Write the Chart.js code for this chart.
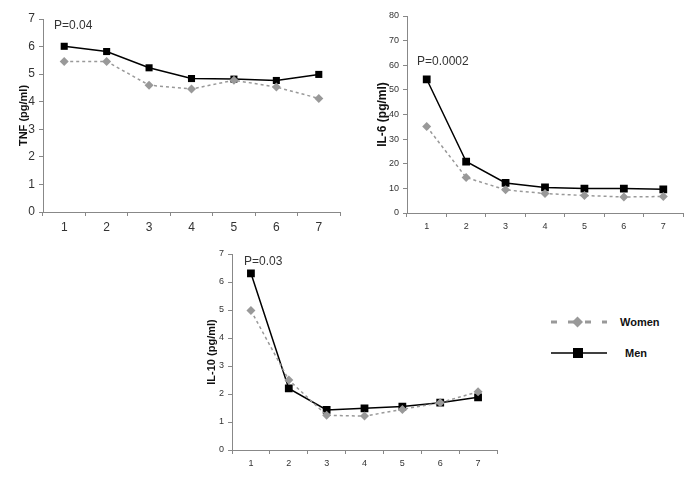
<!DOCTYPE html>
<html><head><meta charset="utf-8">
<script src="https://cdn.jsdelivr.net/npm/chart.js@4.4.1/dist/chart.umd.min.js"></script>
<style>
html,body{margin:0;padding:0;background:#fff;width:693px;height:480px;overflow:hidden;font-family:"Liberation Sans",Arial,sans-serif;}
.box{position:absolute;}
.p{position:absolute;font-size:12px;color:#333;line-height:12px;white-space:nowrap;}
.lg{position:absolute;font-size:11px;font-weight:bold;color:#111;line-height:12px;}
</style></head><body>
<div class="box" style="left:0;top:0;width:345px;height:235px;"><canvas id="c1"></canvas></div>
<div class="box" style="left:350px;top:0;width:343px;height:235px;"><canvas id="c2"></canvas></div>
<div class="box" style="left:180px;top:230px;width:325px;height:250px;"><canvas id="c3"></canvas></div>
<div class="p" style="left:54px;top:19px;">P=0.04</div>
<div class="p" style="left:417px;top:55px;">P=0.0002</div>
<div class="p" style="left:244px;top:255px;">P=0.03</div>
<svg class="box" style="left:545px;top:310px;" width="70" height="55">
  <line x1="6" y1="12" x2="62" y2="12" stroke="#999" stroke-width="3" stroke-dasharray="6,11"/>
  <polygon points="32.5,6.5 38,12 32.5,17.5 27,12" fill="#999"/>
  <line x1="6" y1="43" x2="62" y2="43" stroke="#000" stroke-width="1.5"/>
  <rect x="28" y="38" width="10" height="10" fill="#000"/>
</svg>
<div class="lg" style="left:620px;top:316px;">Women</div>
<div class="lg" style="left:625px;top:347px;">Men</div>
<script>
const categories = ['1','2','3','4','5','6','7'];
const tnfMen   = [6.01, 5.82, 5.23, 4.84, 4.82, 4.77, 4.99];
const tnfWomen = [5.46, 5.46, 4.60, 4.46, 4.78, 4.53, 4.12];
const il6Men   = [54.3, 20.9, 12.2, 10.4, 9.9, 9.9, 9.6];
const il6Women = [35.1, 14.4, 9.4, 7.9, 7.1, 6.5, 6.7];
const il10Men   = [6.31, 2.20, 1.43, 1.49, 1.55, 1.69, 1.88];
const il10Women = [4.98, 2.50, 1.24, 1.21, 1.45, 1.69, 2.08];
const seriesNames = ['Women', 'Men'];

function makeChart(id, women, men, yTitle, yMax, step, cfg) {
  new Chart(document.getElementById(id), {
    type: 'line',
    data: {
      labels: categories,
      datasets: [
        { label: seriesNames[0], data: women, borderColor: '#999', backgroundColor: '#999',
          borderWidth: 1.5, borderDash: [3, 3], pointStyle: 'rectRot', pointRadius: cfg.wr,
          pointBorderWidth: 0, tension: 0 },
        { label: seriesNames[1], data: men, borderColor: '#000', backgroundColor: '#000',
          borderWidth: 1.5, pointStyle: 'rect', pointRadius: cfg.mr,
          pointBorderWidth: 0, tension: 0 }
      ]
    },
    options: {
      responsive: true, maintainAspectRatio: false, animation: false,
      devicePixelRatio: 1,
      layout: { padding: { top: cfg.top, right: cfg.right, left: 0, bottom: 0 } },
      plugins: { legend: { display: false }, tooltip: { enabled: false } },
      scales: {
        x: {
          type: 'category', offset: true,
          grid: { offset: true, drawOnChartArea: false, drawTicks: true, tickLength: 4, color: '#888' },
          border: { color: '#888' },
          ticks: { color: '#333', font: { family: 'Liberation Sans', size: cfg.fs }, padding: 4, maxRotation: 0 },
          afterFit: s => { s.height = cfg.xh; }
        },
        y: {
          min: 0, max: yMax,
          ticks: { stepSize: step, color: '#333', font: { family: 'Liberation Sans', size: cfg.fs }, padding: 4 },
          grid: { drawOnChartArea: false, drawTicks: true, tickLength: 4, color: '#888' },
          border: { color: '#888' },
          title: { display: true, text: yTitle, color: '#111', padding: { top: cfg.tt, bottom: 0 },
                   font: { family: 'Liberation Sans', size: cfg.ts, weight: 'bold' } },
          afterFit: s => { s.width = cfg.yw; }
        }
      }
    }
  });
}

makeChart('c1', tnfWomen, tnfMen, 'TNF (pg/ml)', 7, 1,
  { top: 19, right: 5, xh: 23, yw: 43, fs: 12, ts: 11, tt: 17, wr: 4.5, mr: 5 });
makeChart('c2', il6Women, il6Men, 'IL-6 (pg/ml)', 80, 10,
  { top: 16, right: 10, xh: 22, yw: 57, fs: 9, ts: 12, tt: 25, wr: 4.5, mr: 5.5 });
makeChart('c3', il10Women, il10Men, 'IL-10 (pg/ml)', 7, 1,
  { top: 24, right: 8, xh: 30, yw: 52, fs: 9, ts: 11, tt: 25, wr: 4.5, mr: 5.5 });
</script>
</body></html>
